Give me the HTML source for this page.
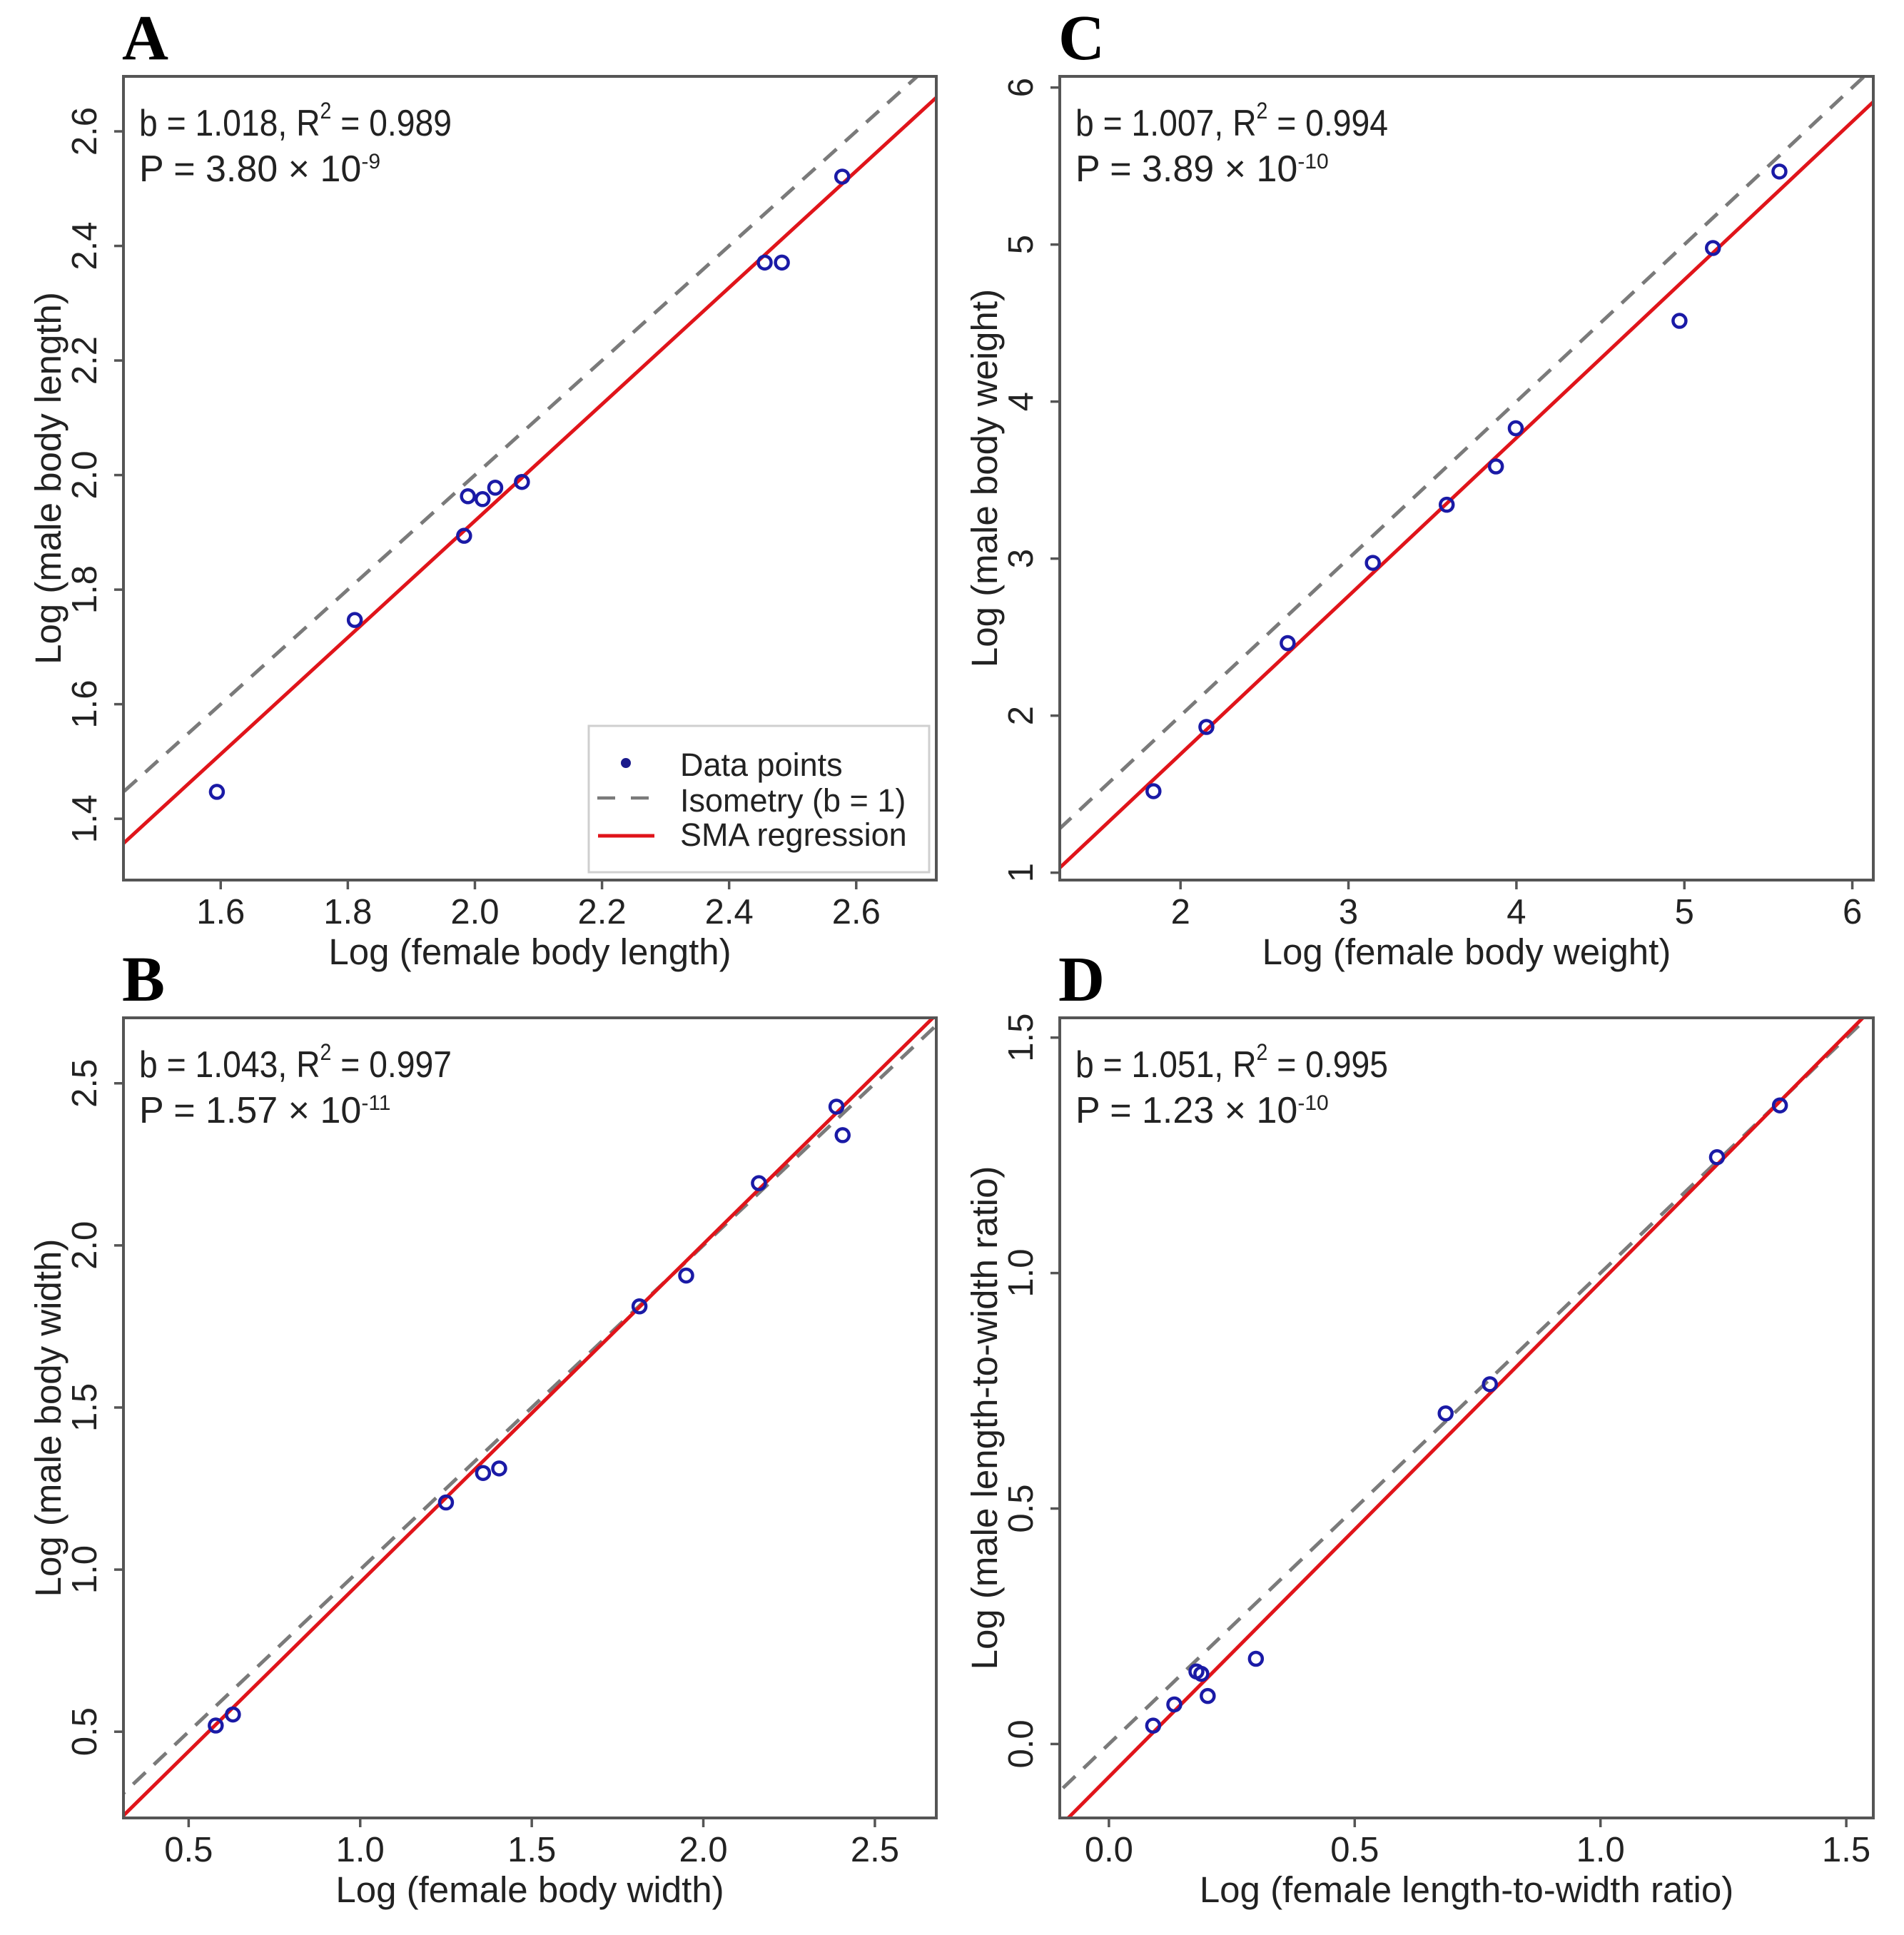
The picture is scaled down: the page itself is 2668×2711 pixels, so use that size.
<!DOCTYPE html>
<html><head><meta charset="utf-8">
<style>
html,body{margin:0;padding:0;background:#fff;width:2668px;height:2711px;overflow:hidden;}
svg{display:block;position:absolute;left:0;top:0;}
text{font-family:"Liberation Sans",Arial,sans-serif;fill:#222;}
.lt{font-family:"Liberation Serif","Times New Roman",serif;font-weight:bold;fill:#000;}
</style></head>
<body>
<svg id="fig" xmlns="http://www.w3.org/2000/svg" width="2668" height="2711" viewBox="0 0 2668 2711"></svg>
<script>
// Panel A data
const aFemale = [1.594,1.811,1.983,1.989,2.012,2.032,2.074,2.456,2.483,2.578];
const aMale   = [1.447,1.747,1.894,1.963,1.958,1.978,1.988,2.371,2.371,2.521];
const aXTicks = ["1.6","1.8","2.0","2.2","2.4","2.6"];
const aYTicks = ["1.4","1.6","1.8","2.0","2.2","2.4","2.6"];
// Panel C data
const cFemale = [1.839,2.154,2.638,3.145,3.585,3.878,3.996,4.971,5.170,5.566];
const cMale   = [1.519,1.928,2.462,2.973,3.343,3.587,3.830,4.514,4.978,5.465];
const cXTicks = ["2","3","4","5","6"];
const cYTicks = ["1","2","3","4","5","6"];
// Panel B data
const bFemale = [0.579,0.629,1.250,1.358,1.405,1.814,1.950,2.162,2.388,2.406];
const bMale   = [0.519,0.553,1.207,1.298,1.312,1.812,1.907,2.192,2.428,2.340];
const bXTicks = ["0.5","1.0","1.5","2.0","2.5"];
const bYTicks = ["0.5","1.0","1.5","2.0","2.5"];
// Panel D data
const dFemale = [0.090,0.133,0.178,0.188,0.201,0.299,0.685,0.775,1.237,1.365];
const dMale   = [0.039,0.084,0.154,0.149,0.102,0.181,0.702,0.764,1.246,1.356];
const dXTicks = ["0.0","0.5","1.0","1.5"];
const dYTicks = ["0.0","0.5","1.0","1.5"];
// fitted SMA parameters [slope, intercept]
const aFit = [1.018,-0.116];
const cFit = [1.007,-0.259];
const bFit = [1.043,-0.082];
const dFit = [1.051,-0.070];

const NS="http://www.w3.org/2000/svg";
const svg=document.getElementById('fig');
function mk(tag,attrs,parent){const e=document.createElementNS(NS,tag);for(const k in attrs)e.setAttribute(k,attrs[k]);(parent||svg).appendChild(e);return e;}

const panels=[
 {id:'a',letter:'A',L:173,R:1312,T:107,B:1233,xd:[1.447,2.726],yd:[1.293,2.696],fx:aFemale,fy:aMale,xt:aXTicks,yt:aYTicks,fit:aFit,
  xtitle:'Log (female body length)',ytitle:'Log (male body length)',b:'1.018',r:'0.989',p:'3.80',e:'-9',legend:true},
 {id:'c',letter:'C',L:1485,R:2625,T:107,B:1233,xd:[1.281,6.125],yd:[0.953,6.071],fx:cFemale,fy:cMale,xt:cXTicks,yt:cYTicks,fit:cFit,
  xtitle:'Log (female body weight)',ytitle:'Log (male body weight)',b:'1.007',r:'0.994',p:'3.89',e:'-10'},
 {id:'b',letter:'B',L:173,R:1312,T:1426,B:2547,xd:[0.310,2.679],yd:[0.234,2.702],fx:bFemale,fy:bMale,xt:bXTicks,yt:bYTicks,fit:bFit,
  xtitle:'Log (female body width)',ytitle:'Log (male body width)',b:'1.043',r:'0.997',p:'1.57',e:'-11'},
 {id:'d',letter:'D',L:1485,R:2625,T:1426,B:2547,xd:[-0.100,1.555],yd:[-0.157,1.542],fx:dFemale,fy:dMale,xt:dXTicks,yt:dYTicks,fit:dFit,
  xtitle:'Log (female length-to-width ratio)',ytitle:'Log (male length-to-width ratio)',b:'1.051',r:'0.995',p:'1.23',e:'-10'}
];

panels.forEach(P=>{
  const g=mk('g',{});
  
  
  const sx=v=>P.L+(v-P.xd[0])/(P.xd[1]-P.xd[0])*(P.R-P.L);
  const sy=v=>P.B-(v-P.yd[0])/(P.yd[1]-P.yd[0])*(P.B-P.T);
  const clipId='clip'+P.id;
  const cp=mk('clipPath',{id:clipId},g);
  mk('rect',{x:P.L,y:P.T,width:P.R-P.L,height:P.B-P.T},cp);

  const lt=mk('text',{x:P.L-2,y:P.T-24,'font-size':90,class:'lt'},g);
  lt.textContent=P.letter;
  
  

  const lines=mk('g',{'clip-path':'url(#'+clipId+')'},g);
  const iso=mk('line',{x1:sx(P.xd[0]-1),y1:sy(P.xd[0]-1),x2:sx(P.xd[1]+1),y2:sy(P.xd[1]+1),stroke:'#7a7a7a','stroke-width':5,'stroke-dasharray':'24 16'},lines);
  
  
  const x0=P.xd[0]-1,x1=P.xd[1]+1;
  const reg=mk('line',{x1:sx(x0),y1:sy(P.fit[0]*x0+P.fit[1]),x2:sx(x1),y2:sy(P.fit[0]*x1+P.fit[1]),stroke:'#e0141a','stroke-width':5},lines);
  
  

  P.fx.forEach((v,i)=>{
    const c=mk('circle',{cx:sx(v),cy:sy(P.fy[i]),r:9,fill:'none',stroke:'#1a1aa6','stroke-width':4.5},g);
    
    
  });

  const box=mk('rect',{x:P.L,y:P.T,width:P.R-P.L,height:P.B-P.T,fill:'none',stroke:'#555','stroke-width':4},g);
  
  

  P.xt.forEach(t=>{
    const x=sx(parseFloat(t));
    mk('line',{x1:x,y1:P.B,x2:x,y2:P.B+13,stroke:'#555','stroke-width':3.5},g);
    const tx=mk('text',{x:x,y:P.B+61,'font-size':49,'text-anchor':'middle'},g);
    tx.textContent=t;
    
    
  });
  P.yt.forEach(t=>{
    const y=sy(parseFloat(t));
    mk('line',{x1:P.L-13,y1:y,x2:P.L,y2:y,stroke:'#555','stroke-width':3.5},g);
    const tx=mk('text',{x:P.L-38,y:y,'font-size':49,'text-anchor':'middle',transform:'rotate(-90 '+(P.L-38)+' '+y+')'},g);
    tx.textContent=t;
    
    
  });
  const xtl=mk('text',{x:(P.L+P.R)/2,y:P.B+118,'font-size':51,'text-anchor':'middle'},g);
  xtl.textContent=P.xtitle;
  
  
  const cy=(P.T+P.B)/2;
  const ytl=mk('text',{x:P.L-88,y:cy,'font-size':51,'text-anchor':'middle',transform:'rotate(-90 '+(P.L-88)+' '+cy+')'},g);
  ytl.textContent=P.ytitle;
  
  

  const a1=mk('text',{x:P.L+22,y:P.T+83,'font-size':52,fill:'#333'},g);
  
  
  a1.innerHTML='<tspan>b = '+P.b+',  R</tspan><tspan dy="-24" font-size="32">2</tspan><tspan dy="24"> = '+P.r+'</tspan>';
  a1.setAttribute('textLength',438);
  a1.setAttribute('lengthAdjust','spacingAndGlyphs');
  const a2=mk('text',{x:P.L+22,y:P.T+147,'font-size':52,fill:'#333'},g);
  
  
  a2.innerHTML='<tspan>P = '+P.p+' \u00d7 10</tspan><tspan dy="-18" font-size="30">'+P.e+'</tspan>';

  if(P.legend){
    const lg=mk('g',{},g);
    
    
    mk('rect',{x:825,y:1017,width:477,height:205,fill:'#fff',stroke:'#cfcfcf','stroke-width':3},lg);
    mk('circle',{cx:877,cy:1069,r:7,fill:'#1a1a8c'},lg);
    mk('line',{x1:837,y1:1118,x2:912,y2:1118,stroke:'#7a7a7a','stroke-width':4.5,'stroke-dasharray':'25 22'},lg);
    mk('line',{x1:838,y1:1171,x2:917,y2:1171,stroke:'#e0141a','stroke-width':5},lg);
    [['Data points',1087],['Isometry (b = 1)',1137],['SMA regression',1185]].forEach(r=>{
      const t=mk('text',{x:953,y:r[1],'font-size':45,fill:'#333'},lg);
      t.textContent=r[0];
      
      
    });
  }
});
</script>
</body></html>
